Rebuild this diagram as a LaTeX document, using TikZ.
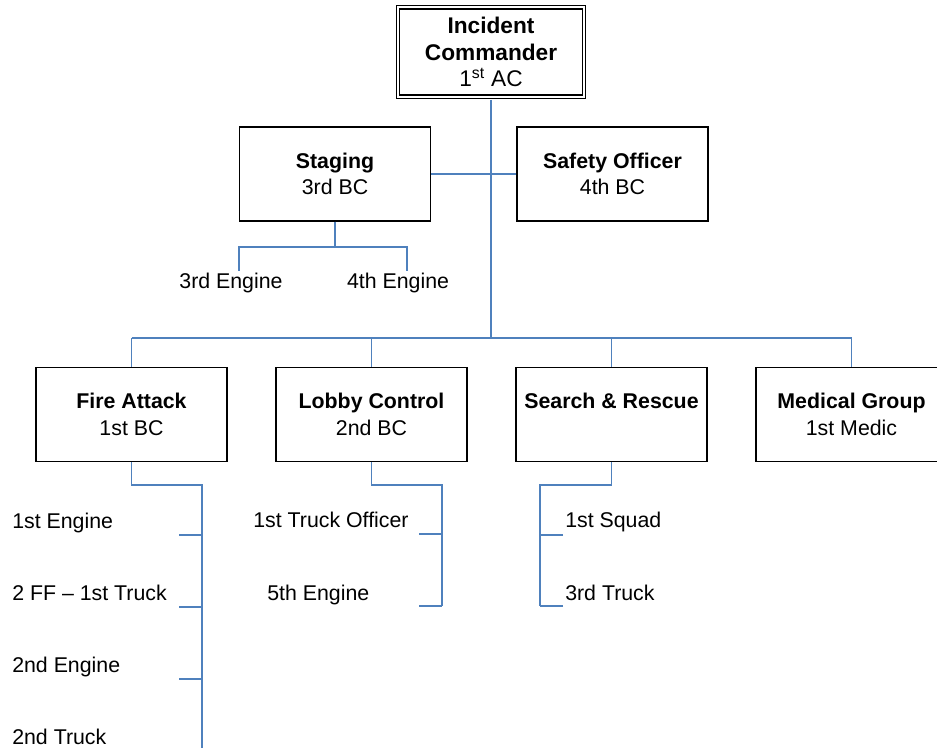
\documentclass[tikz,border=0pt]{standalone}
\usepackage{fontspec}
\setmainfont{Liberation Sans}
\usetikzlibrary{calc}
\definecolor{chartblue}{RGB}{79,129,189}
\def\boxfont{\fontsize{16}{20}\selectfont}

\begin{document}
\begin{tikzpicture}[x=0.75pt, y=-0.75pt,
		unit/.style={draw, line width=1.1pt, minimum width=143.5pt, minimum height=70.5pt, inner sep=1pt, align=center, font=\boxfont},
		chief/.style={draw, double, line width=1.1pt, double distance=1.5pt, outer sep=2.5pt, minimum width=139.5pt, minimum height=66.8pt, inner sep=1pt, align=center, font=\fontsize{17}{20}\selectfont},
		crew/.style={inner sep=0pt, font=\boxfont},
		link/.style={draw=chartblue, line width=1.4pt},
		trunk/.style={draw=chartblue, line width=2.2pt}]
			%%%%% START %%%%%
			\useasboundingbox (0, 0) rectangle (937, 748);
			\clip (0, 0) rectangle (937, 748);
			
			\node[chief] (ic) at (491, 52) {\textbf{Incident}\\\textbf{Commander}\\1\textsuperscript{st} AC};
			
			\node[unit] (stag) at (335, 174) {\textbf{Staging}\\3rd BC};
			\node[unit] (safe) at (612.5, 174) {\textbf{Safety Officer}\\4th BC};
			
			\node[unit] (fire) at (131.5, 414.5) {\textbf{Fire Attack}\\1st BC};
			\node[unit] (lobby) at (371.5, 414.5) {\textbf{Lobby Control}\\2nd BC};
			\node[unit] (search) at (611.5, 414.5) {\textbf{Search \& Rescue}\\\phantom{1st BC}};
			\node[unit] (med) at (851.5, 414.5) {\textbf{Medical Group}\\1st Medic};
			
			% command lines
			\coordinate (bus) at (491, 338);
			\draw[trunk] (ic.south) -- (bus);
			\draw[link] (stag.east) -- (safe.west);
			\draw[link] (bus -| fire.north) -- (bus -| med.north);
			\foreach \n in {fire, lobby, search, med}
				\draw[link] (bus -| \n.north) -- (\n.north);
			
			% staging
			\node[crew, anchor=base] (e3) at (231, 288) {3rd Engine};
			\node[crew, anchor=base] (e4) at (398, 288) {4th Engine};
			\coordinate (d3) at (239, 271);
			\coordinate (d4) at (407, 271);
			\draw[link] (stag.south) -- ++(0, 25) -| (d3);
			\draw[link] (stag.south) -- ++(0, 25) -| (d4);
			
			% fire attack
			\node[crew, anchor=base west] (f1) at (12, 528) {1st Engine};
			\node[crew, anchor=base west] (f2) at (12, 600) {2 FF -- 1st Truck};
			\node[crew, anchor=base west] (f3) at (12, 672) {2nd Engine};
			\node[crew, anchor=base west] (f4) at (12, 744) {2nd Truck};
			\coordinate (fend) at (202, 760);
			\draw[link] (fire.south) -- ++(0, 23) -| (fend);
			\foreach \y [count=\i] in {535, 607, 679, 751}
				\coordinate (ft\i) at (179, \y);
			\foreach \i in {1, ..., 4}
				\draw[link] (ft\i) -- (ft\i -| fend);
			
			% lobby control
			\node[crew, anchor=base west] (l1) at (253, 527) {1st Truck Officer};
			\node[crew, anchor=base west] (l2) at (267, 600) {5th Engine};
			\coordinate (lend) at (442, 606);
			\coordinate (lt1) at (419, 534);
			\coordinate (lt2) at (419, 606);
			\draw[link] (lobby.south) -- ++(0, 23) -| (lend);
			\draw[link] (lt1) -- (lt1 -| lend);
			\draw[link] (lt2) -- (lend);
			
			% search and rescue
			\node[crew, anchor=base west] (s1) at (565, 527) {1st Squad};
			\node[crew, anchor=base west] (s2) at (565, 600) {3rd Truck};
			\coordinate (send) at (540, 606);
			\coordinate (st1) at (563, 535);
			\coordinate (st2) at (563, 606);
			\draw[link] (search.south) -- ++(0, 23) -| (send);
			\draw[link] (st1) -- (st1 -| send);
			\draw[link] (st2) -- (send);
			%%%%% END %%%%%
\end{tikzpicture}
\end{document}
